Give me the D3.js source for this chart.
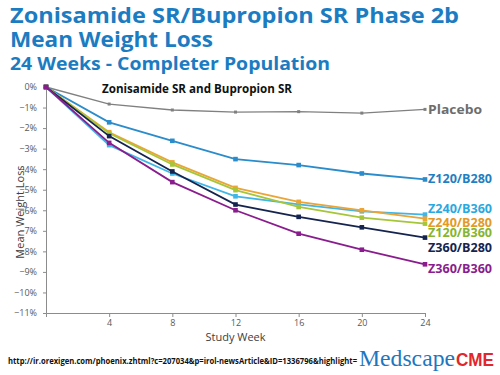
<!DOCTYPE html>
<html>
<head>
<meta charset="utf-8">
<script src="https://cdn.jsdelivr.net/npm/d3@7"></script>
<style>
  body { margin: 0; background: #fff; }
  svg { display: block; }
</style>
</head>
<body>
<div id="chart"></div>
<script>
// Data (mean % weight change, completers)
const weeks = [0, 4, 8, 12, 16, 20, 24];
const seriesNames = ['Placebo', 'Z120/B280', 'Z240/B360', 'Z240/B280', 'Z120/B360', 'Z360/B280', 'Z360/B360'];
const placebo  = [0, -0.83, -1.12, -1.22, -1.20, -1.27, -1.09];
const z120b280 = [0, -1.72, -2.62, -3.51, -3.80, -4.21, -4.50];
const z240b360 = [0, -2.83, -4.21, -5.32, -5.71, -6.05, -6.21];
const z240b280 = [0, -2.20, -3.67, -4.91, -5.59, -6.00, -6.41];
const z120b360 = [0, -2.25, -3.77, -5.02, -5.84, -6.36, -6.65];
const z360b280 = [0, -2.39, -4.11, -5.72, -6.32, -6.83, -7.33];
const z360b360 = [0, -2.72, -4.63, -6.00, -7.14, -7.92, -8.63];
const yTicks = [0, -1, -2, -3, -4, -5, -6, -7, -8, -9, -10, -11];
const xTicks = [4, 8, 12, 16, 20, 24];

const allValues = [placebo, z120b280, z240b360, z240b280, z120b360, z360b280, z360b360];

// styling per series (same order as seriesNames)
const lineColors  = ['#808080', '#2a8ccb', '#3fb6e8', '#eba436', '#a6c63a', '#15244f', '#8a1d8d'];
const labelColors = ['#6d6d6d', '#1f7fc2', '#2aa9e0', '#e39a26', '#86b52f', '#15244f', '#8a1d8d'];
const labelShift  = [1, 0, -6, 4, 9, 10, 5]; // px nudges so the end labels don't collide

const W = 500, H = 375;
const margin = { top: 87, right: 75, bottom: 62, left: 46 };

const svg = d3.select('#chart').append('svg')
  .attr('width', W)
  .attr('height', H)
  .style('font-family', '"Open Sans", sans-serif');

const x = d3.scaleLinear().domain([0, 24]).range([margin.left, W - margin.right]);
const y = d3.scaleLinear().domain([0, -11]).range([margin.top, H - margin.bottom]);

// Titles
const titleBlue = '#1b7cc2';
const titles = [
  { text: 'Zonisamide SR/Bupropion SR Phase 2b', y: 23, size: 21.5, len: 449 },
  { text: 'Mean Weight Loss', y: 47, size: 21.5, len: 203 },
  { text: '24 Weeks - Completer Population', y: 70, size: 18.5, len: 320 }
];
svg.selectAll('.title').data(titles).enter().append('text')
  .attr('class', 'title')
  .attr('x', 10)
  .attr('y', d => d.y)
  .attr('fill', titleBlue)
  .attr('font-weight', 700)
  .attr('font-size', d => d.size)
  .attr('textLength', d => d.len)
  .attr('lengthAdjust', 'spacingAndGlyphs')
  .text(d => d.text);

// Axes
const axisColor = '#8c8c8c';
const yAxis = svg.append('g')
  .attr('transform', `translate(${margin.left},0)`)
  .call(d3.axisLeft(y).tickValues(yTicks).tickSize(3).tickPadding(6)
    .tickFormat(d => d3.format('d')(d) + '%'));
const xAxis = svg.append('g')
  .attr('transform', `translate(0,${y(-11)})`)
  .call(d3.axisBottom(x).tickValues(xTicks).tickSize(4).tickPadding(3).tickFormat(d3.format('d')));

[yAxis, xAxis].forEach(g => {
  g.select('.domain').attr('stroke', axisColor);
  g.selectAll('.tick line').attr('stroke', axisColor);
  g.selectAll('.tick text')
    .attr('fill', '#595959')
    .attr('font-size', 9)
    .attr('font-family', '"Open Sans", sans-serif');
});

svg.append('text')
  .attr('x', x(12))
  .attr('y', 341)
  .attr('text-anchor', 'middle')
  .attr('font-size', 11)
  .attr('fill', '#404040')
  .text('Study Week');

svg.append('text')
  .attr('transform', `translate(24,${212}) rotate(-90)`)
  .attr('text-anchor', 'middle')
  .attr('font-size', 11)
  .attr('fill', '#404040')
  .text('Mean Weight Loss');

// Inner subtitle
svg.append('text')
  .attr('x', 102)
  .attr('y', 93)
  .attr('font-size', 12)
  .attr('font-weight', 700)
  .attr('fill', '#111')
  .attr('textLength', 190)
  .attr('lengthAdjust', 'spacingAndGlyphs')
  .text('Zonisamide SR and Bupropion SR');

// Lines + markers
const series = seriesNames.map((name, i) => ({
  name,
  color: lineColors[i],
  labelColor: labelColors[i],
  shift: labelShift[i],
  points: weeks.map((w, j) => ({ w, v: allValues[i][j] }))
}));

const line = d3.line().x(d => x(d.w)).y(d => y(d.v));

const groups = svg.selectAll('.series').data(series).enter().append('g')
  .attr('class', 'series');

groups.append('path')
  .attr('d', d => line(d.points))
  .attr('fill', 'none')
  .attr('stroke', d => d.color)
  .attr('stroke-width', d => d.name === 'Placebo' ? 1.3 : 1.8);

groups.selectAll('rect').data(d => d.points.map(p => ({ ...p, s: d }))).enter().append('rect')
  .attr('x', d => x(d.w) - (d.s.name === 'Placebo' ? 1.5 : 2.3))
  .attr('y', d => y(d.v) - (d.s.name === 'Placebo' ? 1.5 : 2.3))
  .attr('width', d => d.s.name === 'Placebo' ? 3 : 4.6)
  .attr('height', d => d.s.name === 'Placebo' ? 3 : 4.6)
  .attr('fill', d => d.s.color);

// end labels
groups.append('text')
  .attr('x', x(24) + 3)
  .attr('y', d => y(d.points[d.points.length - 1].v) + d.shift)
  .attr('dy', '0.35em')
  .attr('font-size', 11.5)
  .attr('font-weight', 700)
  .attr('fill', d => d.labelColor)
  .attr('textLength', d => d.name === 'Placebo' ? 54 : 64)
  .attr('lengthAdjust', 'spacingAndGlyphs')
  .text(d => d.name);

// Footer
svg.append('text')
  .attr('x', 8)
  .attr('y', 364)
  .attr('font-size', 8)
  .attr('font-weight', 700)
  .attr('fill', '#111')
  .attr('textLength', 349)
  .attr('lengthAdjust', 'spacingAndGlyphs')
  .text('http://ir.orexigen.com/phoenix.zhtml?c=207034&p=irol-newsArticle&ID=1336796&highlight=');

svg.append('text')
  .attr('x', 359)
  .attr('y', 366)
  .attr('font-family', '"Liberation Serif", "DejaVu Serif", serif')
  .attr('font-size', 23)
  .attr('fill', '#1d77c0')
  .attr('textLength', 96)
  .attr('lengthAdjust', 'spacingAndGlyphs')
  .text('Medscape');
svg.append('text')
  .attr('x', 456)
  .attr('y', 366)
  .attr('font-family', '"Liberation Sans", Arial, sans-serif')
  .attr('font-weight', 700)
  .attr('font-size', 18)
  .attr('fill', '#e2262b')
  .attr('textLength', 38)
  .attr('lengthAdjust', 'spacingAndGlyphs')
  .text('CME');
</script>
</body>
</html>
